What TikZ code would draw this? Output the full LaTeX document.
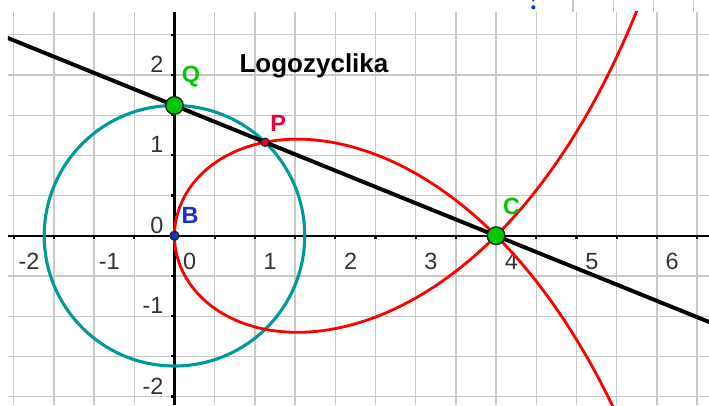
\documentclass[tikz,border=0pt]{standalone}
\usepackage{fontspec}
\setmainfont{Liberation Sans}
\usetikzlibrary{calc}

\definecolor{turkus}{RGB}{0,153,153}
\definecolor{czerwony}{RGB}{255,0,0}
\definecolor{zielony}{RGB}{0,200,0}
\definecolor{niebieski}{RGB}{20,50,220}
\definecolor{malinowy}{RGB}{230,0,60}
\definecolor{siatka}{RGB}{200,200,200}

\begin{document}
\begin{tikzpicture}[
    linia siatki/.style={siatka, line width=0.45pt},
    punkt/.style={draw=black!85, line width=0.5pt},
    etykieta/.style={font=\fontsize{8.3}{10}\selectfont\bfseries, inner sep=0pt},
    liczba/.style={font=\fontsize{8.3}{10}\selectfont, text=black!80, inner sep=0pt}
  ]
  % Parametry: B = (0,0), C = (\cx,0), Q = (0,\qy)
  \def\cx{4}
  \def\qy{1.62}

  % P: drugi punkt wspolny prostej QC i okregu o srodku B przez Q
  \pgfmathsetmacro{\tq}{-\qy/\cx}
  \pgfmathsetmacro{\Px}{2*\cx*\tq*\tq/(1+\tq*\tq)}
  \pgfmathsetmacro{\Py}{\cx*\tq*(\tq*\tq-1)/(1+\tq*\tq)}

  \coordinate (B) at (0,0);
  \coordinate (C) at (\cx,0);
  \coordinate (Q) at (0,\qy);
  \coordinate (P) at (\Px,\Py);

  % Ramka obrazka
  \useasboundingbox (-2.170,-2.106) rectangle (6.648,2.932);
  \fill[white] (-2.170,-2.106) rectangle (6.648,2.932);

  % Gorny pasek zrzutu
  \foreach \x in {5,5.5,6,6.5}
    \draw[linia siatki] (\x-0.044,2.783) -- (\x-0.044,2.932);
  \fill[niebieski] (4.463,2.841) circle (0.026);
  \fill[niebieski] (4.463,2.922) circle (0.014);

  \begin{scope}
    \clip (-2.071,-2.106) rectangle (6.648,2.783);

    % Siatka i osie
    \draw[linia siatki, step=0.5] (-2.071,-2.106) grid (6.648,2.783);
    \draw[line width=0.75pt] (-2.071,0) -- (6.648,0);
    \draw[line width=0.75pt] (0,-2.106) -- (0,2.783);
    \foreach \x in {-2,-1.5,...,6.5}
      \draw[line width=0.75pt] (\x,0) -- (\x,-0.045);
    \foreach \y in {-2,-1.5,...,2.5}
      \draw[line width=0.75pt] (0,\y) -- (-0.045,\y);
    \foreach \x in {-2,...,6}
      \node[liczba] (ox\x) at (\x+0.19,-0.32) {\x};
    \foreach \y in {-2,...,2}
      \node[liczba, anchor=east] (oy\y) at (-0.13,\y+0.13) {\y};

    % Okrag o srodku B przez Q
    \draw[turkus, line width=1.1pt] (B) circle [radius=\qy];

    % Logocyklika (strofoida prosta z wezlem w C)
    \draw[czerwony, line width=1pt, domain=-1.75:1.85, samples=300, smooth, variable=\s]
      plot ({2*\cx*\s*\s/(1+\s*\s)}, {\cx*\s*(\s*\s-1)/(1+\s*\s)});

    % Prosta QC
    \draw[line width=1.4pt] ($(Q)!-0.6!(C)$) -- ($(Q)!1.75!(C)$);
  \end{scope}

  % Punkty
  \filldraw[punkt, fill=zielony] (Q) circle (0.11);
  \filldraw[punkt, fill=zielony] (C) circle (0.11);
  \filldraw[punkt, fill=malinowy] (P) circle (0.05);
  \filldraw[punkt, fill=niebieski] (B) circle (0.055);

  \node[etykieta, text=zielony] (labQ) at ($(Q)+(0.205,0.36)$) {Q};
  \node[etykieta, text=malinowy] (labP) at ($(P)+(0.164,0.234)$) {P};
  \node[etykieta, text=niebieski] (labB) at ($(B)+(0.193,0.249)$) {B};
  \node[etykieta, text=zielony] (labC) at ($(C)+(0.194,0.36)$) {C};

  \node[font=\fontsize{9.2}{11}\selectfont\bfseries] (tytul) at (1.735,2.111) {Logozyclika};
\end{tikzpicture}
\end{document}
